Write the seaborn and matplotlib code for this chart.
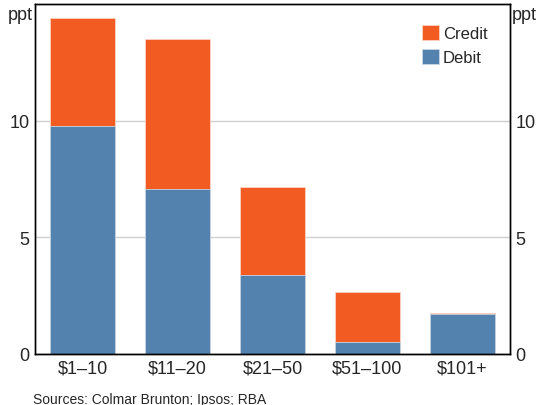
import matplotlib
matplotlib.use("Agg")
import matplotlib.pyplot as plt
import numpy as np
import pandas as pd
import seaborn as sns

# data (ppt)
categories = ["$1–10", "$11–20", "$21–50", "$51–100", "$101+"]
debit = [9.78, 7.06, 3.37, 0.50, 1.72]
credit = [4.63, 6.46, 3.80, 2.14, 0.04]
yticks = [0, 5, 10]

orange = "#F25B22"
blue = "#5282AD"

sns.set_theme(style="white")
plt.rcParams["font.family"] = ["Liberation Sans", "DejaVu Sans"]

df = pd.DataFrame({"cat": categories, "debit": debit, "credit": credit})
df["total"] = df["debit"] + df["credit"]

fig = plt.figure(figsize=(5.4, 4.06), dpi=100)
ax = fig.add_axes([35 / 540, 1 - 355 / 406, 475 / 540, 350 / 406])

#stack: full total in orange, debit drawn over it in blue
sns.barplot(data=df, x="cat", y="total", color=orange, width=0.68, saturation=1,
            edgecolor="#FBD3C2", linewidth=0.6, label="Credit", ax=ax)
sns.barplot(data=df, x="cat", y="debit", color=blue, width=0.68, saturation=1,
            edgecolor="#C9D7E6", linewidth=0.6, label="Debit", ax=ax)

ax.set_xlim(-0.5, len(categories) - 0.5)
ax.set_ylim(0, 15)
ax.set_xlabel("")
ax.set_ylabel("")
ax.set_yticks(yticks)
ax.set_yticklabels([str(t) for t in yticks], fontsize=13)
ax.yaxis.grid(True, color="#D0D0D0", linewidth=1)
ax.set_axisbelow(True)
ax.tick_params(axis="y", length=0, pad=4)
ax.tick_params(axis="x", which="major", length=0, pad=4, labelsize=13)
ax.set_xticks(np.arange(len(categories) - 1) + 0.5, minor=True)
ax.tick_params(axis="x", which="minor", direction="in", length=5, width=1, color="black")
for s in ax.spines.values():
    s.set_color("black")
    s.set_linewidth(1)

ax2 = ax.twinx()
ax2.set_ylim(0, 15)
ax2.set_yticks(yticks)
ax2.set_yticklabels([str(t) for t in yticks], fontsize=13)
ax2.tick_params(axis="y", length=0, pad=4)
ax2.grid(False)
for s in ax2.spines.values():
    s.set_color("black")
    s.set_linewidth(1)

fig.text(33 / 540, 1 - 16 / 406, "ppt", ha="right", va="center", fontsize=13)
fig.text(512 / 540, 1 - 16 / 406, "ppt", ha="left", va="center", fontsize=13)

ax.legend(loc="upper left", bbox_to_anchor=(387 / 475, 0.94), frameon=False, fontsize=12,
          handlelength=1.0, handleheight=1.0, handletextpad=0.25, labelspacing=0.45,
          borderaxespad=0.0, borderpad=0.0)

fig.text(33 / 540, 1 - 400 / 406, "Sources: Colmar Brunton; Ipsos; RBA", ha="left",
         va="center", fontsize=10)

fig.savefig("out.png", dpi=100)
